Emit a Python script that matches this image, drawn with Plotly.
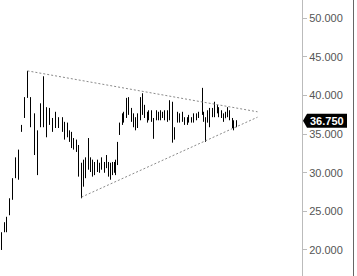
import plotly.graph_objects as go

# ---- data ----
days = [0, 3, 5, 8, 11, 14, 17, 20, 23, 26, 29, 33, 36, 39, 42, 45, 48, 51, 54, 57,
        61, 63, 66, 68, 70, 72, 75, 77, 80, 82, 84, 87, 89, 91, 93, 96, 98, 100, 103, 105,
        107, 109, 111, 113, 114, 116, 118, 121, 122, 125, 127, 130, 132, 134, 136, 139, 141, 143, 146, 147,
        150, 152, 155, 157, 159, 161, 163, 166, 168, 171, 173, 176, 178, 181, 183, 186, 187, 190, 192, 195,
        197, 201, 202, 204, 206, 208, 211, 213, 216, 217, 220, 222, 224, 226, 228, 231, 232, 235]
highs = [22.3, 23.6, 24.3, 26.7, 29.3, 32.0, 33.0, 36.2, 39.8, 43.2, 39.8, 37.7, 35.5, 39.0, 42.5, 38.5, 38.4, 37.1, 37.9, 37.2,
         37.2, 36.6, 36.5, 35.5, 35.3, 34.5, 34.3, 33.6, 31.3, 31.7, 32.0, 34.5, 32.0, 31.7, 31.4, 31.7, 31.3, 32.0, 31.4, 32.3,
         31.4, 31.3, 31.4, 31.4, 31.7, 34.0, 36.5, 37.7, 37.9, 39.7, 39.8, 38.4, 37.7, 37.2, 37.7, 39.8, 40.3, 38.8, 37.9, 38.1,
         38.1, 37.1, 38.1, 37.9, 38.1, 37.9, 38.1, 38.1, 39.4, 39.2, 35.9, 37.9, 37.7, 37.9, 37.2, 37.2, 37.5, 37.2, 37.7, 37.7,
         37.9, 41.0, 37.9, 37.2, 38.1, 38.4, 38.4, 39.2, 38.8, 38.5, 38.1, 37.7, 37.9, 38.5, 38.1, 37.1, 36.8, 36.8]
lows = [20.0, 22.3, 22.3, 24.5, 26.5, 29.3, 29.1, 35.3, 37.1, 39.7, 35.9, 32.3, 29.7, 35.9, 35.9, 34.6, 36.2, 35.3, 35.8, 35.8,
        35.3, 34.3, 34.6, 34.0, 33.2, 33.0, 32.7, 29.5, 26.7, 28.2, 29.3, 30.4, 30.1, 29.5, 29.7, 30.1, 30.0, 30.4, 30.0, 30.6,
        29.5, 29.1, 29.7, 30.0, 29.7, 31.0, 34.9, 36.2, 36.5, 37.1, 37.5, 36.6, 35.9, 35.5, 35.8, 36.8, 37.5, 37.1, 36.5, 36.8,
        36.6, 34.4, 36.8, 36.8, 36.8, 37.1, 36.8, 36.6, 36.8, 33.9, 34.3, 36.5, 36.5, 36.6, 36.2, 36.2, 36.5, 36.5, 36.5, 36.8,
        37.1, 37.5, 36.6, 34.0, 36.5, 35.9, 37.2, 37.2, 37.7, 37.2, 37.1, 36.6, 37.1, 37.2, 36.8, 35.8, 35.5, 35.9]
opens = [20.3, 22.4, 23.2, 24.8, 26.7, 29.5, 31.2, 35.5, 37.4, 39.8, 39.5, 37.0, 33.0, 36.2, 38.3, 37.4, 37.6, 36.5, 36.0, 37.0,
         36.1, 36.4, 35.0, 35.3, 34.5, 33.6, 33.8, 33.2, 30.1, 28.5, 30.6, 31.2, 31.5, 30.5, 30.2, 30.8, 30.4, 31.0, 31.2, 30.8,
         31.2, 30.0, 29.8, 30.9, 30.4, 31.3, 35.1, 36.4, 37.0, 37.5, 39.0, 38.1, 37.0, 36.2, 36.7, 37.2, 39.3, 38.2, 37.4, 37.1,
         37.7, 37.0, 37.0, 37.6, 37.3, 37.8, 37.3, 37.6, 37.1, 38.4, 34.6, 36.7, 37.4, 36.9, 37.0, 36.5, 36.8, 37.1, 36.8, 37.3,
         37.2, 37.8, 37.5, 36.9, 36.6, 37.7, 37.4, 37.9, 38.6, 38.0, 37.6, 37.5, 37.0, 37.5, 38.0, 37.0, 36.0, 36.3]
closes = [22.0, 23.4, 24.0, 26.4, 29.0, 31.6, 32.8, 36.0, 39.6, 40.2, 37.0, 33.5, 35.2, 38.4, 37.3, 37.8, 36.5, 35.9, 37.5, 36.2,
          36.7, 34.8, 35.9, 34.4, 33.8, 34.0, 33.1, 30.3, 27.8, 31.0, 31.5, 31.8, 30.6, 30.0, 31.1, 30.5, 31.0, 31.6, 30.4, 31.9,
          30.0, 29.6, 31.0, 30.5, 31.4, 33.7, 36.2, 37.3, 37.6, 39.3, 38.0, 37.0, 36.3, 36.8, 37.4, 39.4, 38.3, 37.5, 37.0, 37.8,
          37.2, 35.2, 37.8, 37.2, 37.9, 37.4, 37.7, 37.0, 38.5, 34.5, 35.6, 37.5, 36.8, 37.6, 36.5, 36.9, 37.2, 36.7, 37.4, 37.0,
          37.7, 38.2, 37.0, 34.8, 37.8, 36.5, 38.0, 38.8, 38.0, 37.5, 37.9, 36.9, 37.6, 38.2, 37.1, 36.1, 36.4, 36.75]

# triangle trend lines (day, value)
upper_line_x = [26, 256]
upper_line_y = [43.2, 37.9]
lower_line_x = [80, 256]
lower_line_y = [26.85, 37.2]

y_range = [16.63, 52.38]
x_range = [-1.5, 300.5]

W, H = 357, 276
ML, MR, MT, MB = 0, 55, 0, 0
plot_w = W - ML - MR
plot_h = H - MT - MB

fig = go.Figure()
fig.add_trace(go.Ohlc(
    x=days, open=opens, high=highs, low=lows, close=closes,
    increasing=dict(line=dict(color="black", width=1)),
    decreasing=dict(line=dict(color="black", width=1)),
    tickwidth=0.35, hoverinfo="skip", showlegend=False,
))
for lx, ly in ((upper_line_x, upper_line_y), (lower_line_x, lower_line_y)):
    fig.add_trace(go.Scatter(
        x=lx, y=ly, mode="lines",
        line=dict(color="#8a8a8a", width=1, dash="2px,2px"),
        hoverinfo="skip", showlegend=False,
    ))

# last price label
last = closes[-1]
def ypaper(v):
    return (v - y_range[0]) / (y_range[1] - y_range[0])
def xpaper(px):
    return px / plot_w

yc = ypaper(last)
hh = 7 / plot_h
tip = xpaper(plot_w + 1)
bx0 = xpaper(plot_w + 5)
bx1 = xpaper(plot_w + 45)
path = (f"M {tip},{yc} L {bx0},{yc + hh} L {bx1},{yc + hh} "
        f"L {bx1},{yc - hh} L {bx0},{yc - hh} Z")
fig.add_shape(type="path", path=path, xref="paper", yref="paper",
              fillcolor="black", line=dict(width=0), layer="above")
fig.add_annotation(x=(bx0 + bx1) / 2, y=yc, xref="paper", yref="paper",
                   text=f"<b>{last:.3f}</b>", showarrow=False,
                   font=dict(color="white", size=11, family="Liberation Sans, Arial"),
                   xanchor="center", yanchor="middle")
# right border line
fig.add_shape(type="line", xref="paper", yref="paper",
              x0=xpaper(plot_w + 51.5), x1=xpaper(plot_w + 51.5), y0=0, y1=1,
              line=dict(color="#666666", width=1))

fig.update_layout(
    width=W, height=H,
    margin=dict(l=ML, r=MR, t=MT, b=MB),
    paper_bgcolor="white", plot_bgcolor="white",
    font=dict(family="Liberation Sans, Arial", size=11, color="#555555"),
    xaxis=dict(visible=False, range=x_range, rangeslider=dict(visible=False)),
    yaxis=dict(side="right", range=y_range, tick0=0, dtick=5, tickformat=".3f",
               showgrid=False, zeroline=False, showline=True, linecolor="#bbbbbb",
               linewidth=1, ticks="outside", ticklen=4, tickcolor="#bbbbbb",
               tickfont=dict(size=11, color="#555555")),
)
fig.write_html("out.html")
